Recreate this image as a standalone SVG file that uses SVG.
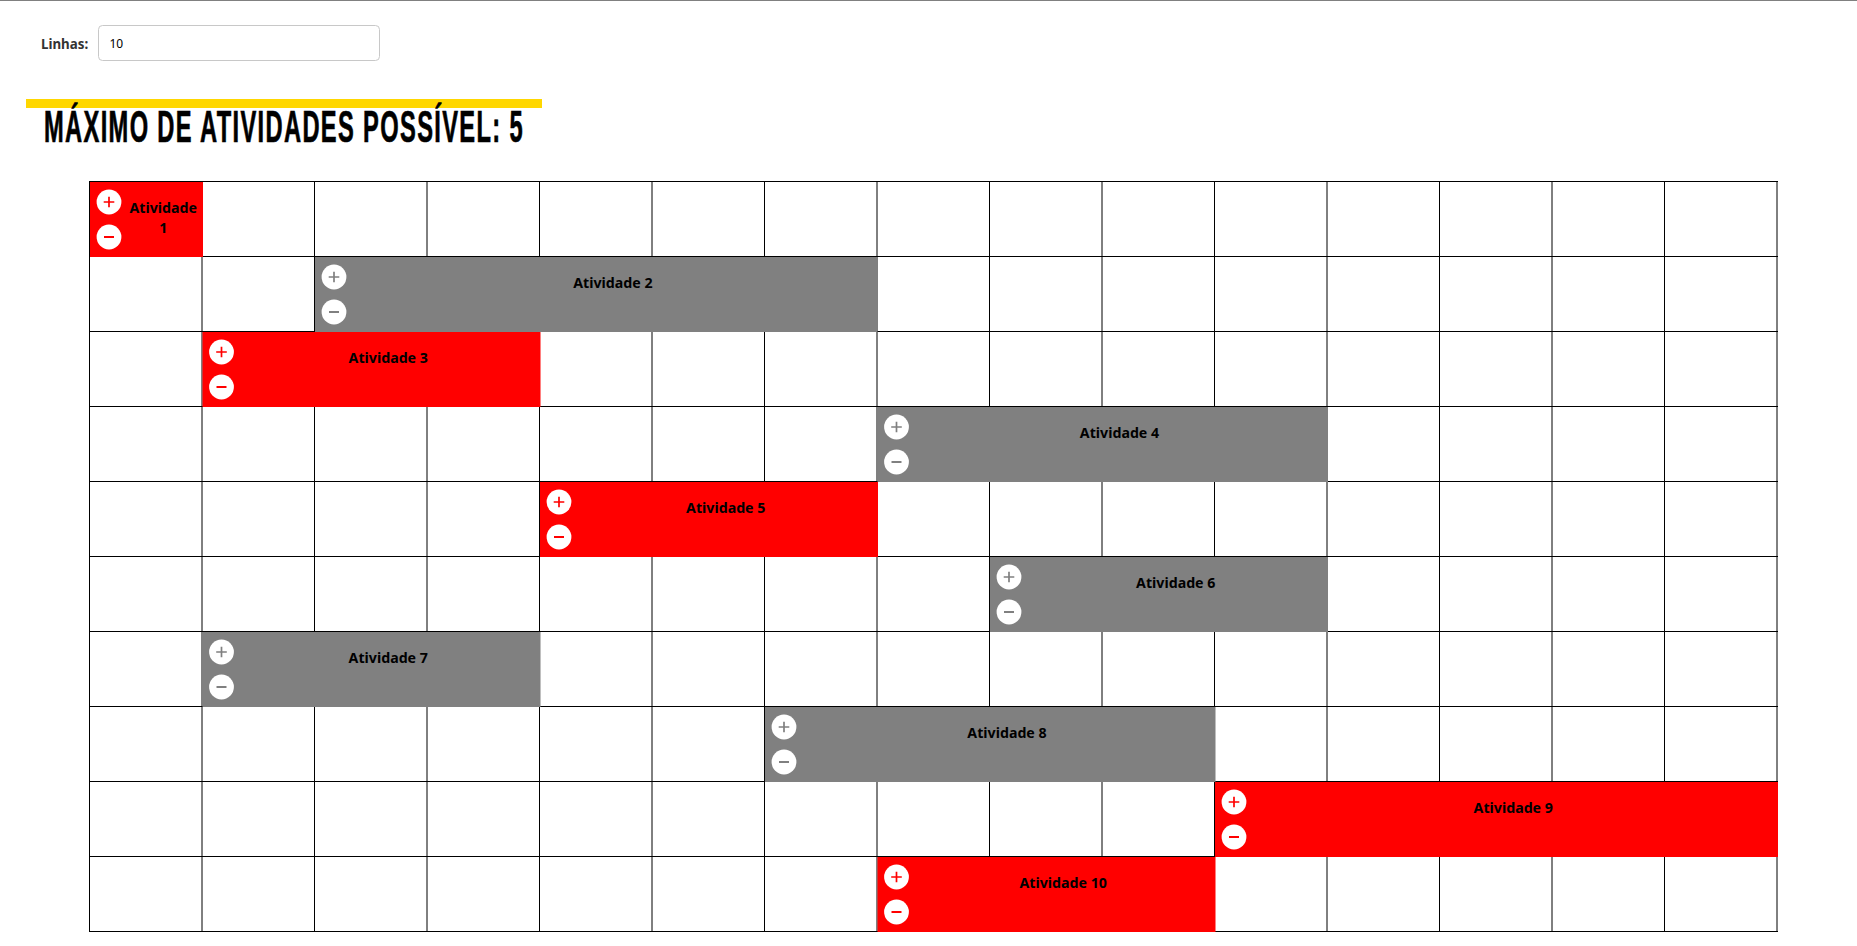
<svg xmlns="http://www.w3.org/2000/svg" xmlns:xlink="http://www.w3.org/1999/xlink" width="1857" height="946" viewBox="0 0 1857 946">
<style>
text{font-family:"Noto Sans","Open Sans","Liberation Sans",sans-serif}
.lbl{font-size:14.2px;font-weight:700;fill:#000;text-anchor:middle}
.red{color:#f00}.red .bar{fill:#f00}
.grey{color:#808080}.grey .bar{fill:#808080}
.disc{fill:#fff}
.sym{fill:none;stroke:currentColor;stroke-width:1.7}
.grid{fill:none;stroke:#000;stroke-width:1}
</style>
<defs>
<g id="plus"><circle class="disc" r="12.4"/><path class="sym" d="M-5.3 0H5.3M0-5.3V5.3"/></g>
<g id="minus"><circle class="disc" r="12.4"/><path class="sym" style="stroke-width:2" d="M-5 0H5"/></g>
</defs>
<rect width="1857" height="946" fill="#fff"/>
<rect id="topline" x="0" y="0" width="1857" height="1" fill="#808080"/>
<g id="filter">
<text x="41" y="48.5" font-size="13.33" font-weight="700" fill="#333">Linhas:</text>
<rect x="98.5" y="25.5" width="281" height="35" rx="4" fill="#fff" stroke="#c8c8c8"/>
<text x="109.5" y="47.7" font-size="12" fill="#000">10</text>
</g>
<g id="heading">
<rect x="26" y="99" width="516" height="9" fill="#ffd700"/>
<text x="44" y="141.7" font-size="44" font-weight="700" fill="#000" stroke="#000" stroke-width="0.7" letter-spacing="2.5" textLength="480" lengthAdjust="spacingAndGlyphs" style="font-family:'Liberation Sans Narrow','Liberation Sans',sans-serif">MÁXIMO DE ATIVIDADES POSSÍVEL: 5</text>
</g>
<g id="grid"><path class="grid" d="M89 181.5H1778M89 256.5H1778M89 331.5H1778M89 406.5H1778M89 481.5H1778M89 556.5H1778M89 631.5H1778M89 706.5H1778M89 781.5H1778M89 856.5H1778M89 931.5H1778M89.5 181V932M202 181V932M314.5 181V932M427 181V932M539.5 181V932M652 181V932M764.5 181V932M877 181V932M989.5 181V932M1102 181V932M1214.5 181V932M1327 181V932M1439.5 181V932M1552 181V932M1664.5 181V932M1777 181V932"/></g>
<g id="connectors"/>
<g id="atividade-1" class="red"><rect class="bar" x="90" y="182" width="113" height="75"/><use href="#plus" x="109" y="202"/><use href="#minus" x="109" y="237"/><text class="lbl" x="163.25" y="213">Atividade</text><text class="lbl" x="163.25" y="233">1</text></g>
<g id="atividade-2" class="grey"><rect class="bar" x="315" y="257" width="562.5" height="75"/><use href="#plus" x="334" y="277"/><use href="#minus" x="334" y="312"/><text class="lbl" x="612.9" y="288">Atividade 2</text></g>
<g id="atividade-3" class="red"><rect class="bar" x="202.5" y="332" width="338" height="75"/><use href="#plus" x="221.5" y="352"/><use href="#minus" x="221.5" y="387"/><text class="lbl" x="388.25" y="363">Atividade 3</text></g>
<g id="atividade-4" class="grey"><rect class="bar" x="877.5" y="407" width="450.5" height="75"/><use href="#plus" x="896.5" y="427"/><use href="#minus" x="896.5" y="462"/><text class="lbl" x="1119.5" y="438">Atividade 4</text></g>
<g id="atividade-5" class="red"><rect class="bar" x="540" y="482" width="338" height="75"/><use href="#plus" x="559" y="502"/><use href="#minus" x="559" y="537"/><text class="lbl" x="725.75" y="513">Atividade 5</text></g>
<g id="atividade-6" class="grey"><rect class="bar" x="990" y="557" width="338" height="75"/><use href="#plus" x="1009" y="577"/><use href="#minus" x="1009" y="612"/><text class="lbl" x="1175.75" y="588">Atividade 6</text></g>
<g id="atividade-7" class="grey"><rect class="bar" x="202.5" y="632" width="338" height="75"/><use href="#plus" x="221.5" y="652"/><use href="#minus" x="221.5" y="687"/><text class="lbl" x="388.25" y="663">Atividade 7</text></g>
<g id="atividade-8" class="grey"><rect class="bar" x="765" y="707" width="450.5" height="75"/><use href="#plus" x="784" y="727"/><use href="#minus" x="784" y="762"/><text class="lbl" x="1007" y="738">Atividade 8</text></g>
<g id="atividade-9" class="red"><rect class="bar" x="1215" y="782" width="563" height="75"/><use href="#plus" x="1234" y="802"/><use href="#minus" x="1234" y="837"/><text class="lbl" x="1513.25" y="813">Atividade 9</text></g>
<g id="atividade-10" class="red"><rect class="bar" x="877.5" y="857" width="338" height="75"/><use href="#plus" x="896.5" y="877"/><use href="#minus" x="896.5" y="912"/><text class="lbl" x="1063.25" y="888">Atividade 10</text></g>
</svg>
